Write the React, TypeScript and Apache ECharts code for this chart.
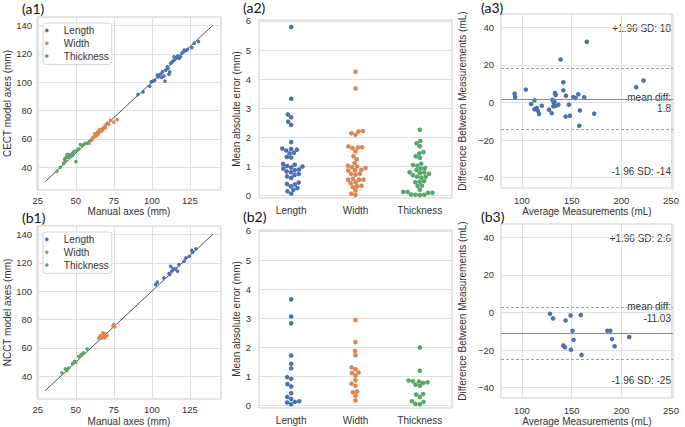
import React, { useEffect, useRef } from 'react';
import * as echarts from 'echarts';

// ---------- data ----------
const categories = ['Length', 'Width', 'Thickness'];

const a1Length = [[90.9,91.3],[94.2,93.2],[98.6,97.2],[99.7,100.3],[100.8,100.8],[102,101.5],[103.6,105],[104.3,103.8],[104.7,105],[105.8,105.7],[106.5,103.3],[107,107.3],[108,104.3],[108.7,100.8],[109.1,108.5],[110.2,110.9],[110.6,109.8],[111.3,105.7],[111.8,107.3],[112.4,113.3],[113.5,114.5],[114.6,115.6],[114.6,118],[115.7,116.8],[116.9,118.5],[117.5,118.5],[117.9,116.8],[119,118],[119.7,120.4],[120.6,121.1],[121.3,122.7],[122.4,122.3],[123.5,123.2],[126.3,124.4],[127.9,127.5],[130.7,128.7]];
const a1Width = [[58.9,57],[60.7,59.4],[61.1,60.8],[61.8,61.3],[62.4,63.6],[62.9,61.7],[63.5,62.5],[64.2,64.8],[64.6,63.2],[65.1,64.1],[65.5,66.5],[66.2,66],[66.9,65.5],[67.3,67.2],[67.8,66.5],[68.4,67.9],[69.1,68.8],[69.5,67.9],[70,70.3],[70.8,71.2],[71.7,70.3],[72.8,73.1],[75,71.9],[77.2,73.6]];
const a1Thickness = [[37.6,37.2],[39.8,40],[42,42.8],[42.6,45.9],[43.1,44.7],[43.7,47.1],[44.2,49],[44.8,47.1],[45.3,47.6],[45.7,49],[46.6,48.3],[47.5,49.5],[47.9,48.3],[48.3,50.6],[49.2,51.3],[50.1,44],[51,52.3],[51.9,53],[53,56.1],[54.1,55.4],[55.2,56.1],[56.3,57],[57.4,57],[59.6,58.9]];

const b1Length = [[102.5,104.7],[103.6,106.4],[108,109.4],[111.3,112.5],[111.8,111.8],[112.4,117.6],[113.1,114.1],[114,115.8],[115.7,115.8],[116.9,114.1],[117.9,118.8],[121.3,121.2],[122.4,123.5],[124.6,124.7],[126.3,128.9],[126.8,127.5],[129,129.9]];
const b1Width = [[65.1,67.1],[66.2,68.7],[67.3,67.1],[67.8,70.6],[68.4,69.4],[69.1,67.1],[69.5,70.1],[70.6,68.7],[74.4,75.3],[75,76.5],[75.7,74.8]];
const b1Thickness = [[40.9,42.4],[43.1,45.2],[44.2,44.2],[45.3,45.9],[47.9,48.9],[49.2,50.6],[50.1,49.9],[51.9,54.1],[53.6,55.3],[55.2,56.5],[57.4,59.3]];

const identityLine = [[30, 30], [140, 140]];

const a2Length = [5.79,3.33,2.79,2.69,2.54,2.43,1.84,1.62,1.6,1.58,1.55,1.47,1.45,1.33,1.31,1.09,1.06,1.02,1.0,0.97,0.93,0.9,0.87,0.83,0.8,0.74,0.71,0.66,0.61,0.45,0.4,0.38,0.32,0.26,0.2,0.15,0.07];
const a2Width = [4.25,3.68,2.22,2.2,2.14,2.09,1.69,1.66,1.65,1.63,1.52,1.35,1.25,1.12,1.03,1.0,0.98,0.95,0.89,0.87,0.86,0.75,0.75,0.72,0.58,0.55,0.55,0.55,0.46,0.43,0.34,0.32,0.3,0.18,0.07,0.02];
const a2Thickness = [2.26,1.88,1.8,1.7,1.5,1.45,1.35,1.3,1.1,1.05,1.03,0.95,0.93,0.88,0.8,0.8,0.78,0.75,0.7,0.65,0.65,0.62,0.5,0.48,0.46,0.35,0.33,0.2,0.13,0.13,0.1,0.1,0.04,0.03,0.03,0.02];

const b2Length = [3.65,3.06,2.83,1.72,1.44,1.28,0.98,0.92,0.74,0.66,0.43,0.3,0.23,0.15,0.13,0.11,0.05];
const b2Width = [2.94,2.18,1.88,1.73,1.32,1.25,1.14,1.12,1.03,0.87,0.75,0.68,0.49,0.46,0.34,0.18];
const b2Thickness = [2.0,1.2,0.86,0.84,0.83,0.8,0.78,0.72,0.68,0.4,0.38,0.3,0.15,0.13,0.06,0.05];

const a3Points = [[92.7,4.6],[93.3,2.8],[104,6.8],[109.3,-0.9],[112.7,1.1],[112.7,-3.6],[115,-3.0],[116,-4.4],[117.3,-6.2],[120,-1.8],[127.3,-3.9],[130,-5.7],[130.7,1.4],[131.7,-2.1],[132,0],[132.7,0.5],[133.3,5],[134,3.9],[134,-1.8],[136.7,-1.2],[139,22.8],[141.7,10.7],[141.7,6.4],[144.3,3.6],[144,-7.5],[147.3,-1.2],[148.3,-7.1],[151.7,2.8],[154,2.3],[156.7,4.3],[158.3,-4.3],[157.7,-12.4],[162.7,2.7],[165.3,32.2],[172.7,-6],[215,8],[222.3,11.6]];
const a3Stats = { mean: 1.8, upper: 17.9, lower: -14.3 };
const a3Labels = ['+1.96 SD: 18', 'mean diff:', '1.8', '-1.96 SD: -14'];

const b3Points = [[128.3,-0.7],[131.3,-3.2],[144,-4.3],[149,-1.6],[159.3,-1.4],[151,-9.8],[152,-14.6],[141.7,-17.6],[143.3,-18.5],[149.3,-19.9],[160,-22.6],[186,-9.8],[189,-9.8],[190.7,-14.2],[193.3,-18],[208,-13.1]];
const b3Stats = { mean: -11.03, upper: 2.6, lower: -24.66 };
const b3Labels = ['+1.96 SD: 2.6', 'mean diff:', '-11.03', '-1.96 SD: -25'];

const ticksXY = [25, 50, 75, 100, 125];
const ticksYY = [40, 60, 80, 100, 120, 140];
const ticksErr = [0, 1, 2, 3, 4, 5, 6];
const ticksAvg = [100, 150, 200, 250];
const ticksDiff = [-40, -20, 0, 20, 40];

// ---------- style / layout ----------
const COLORS = ['#4c72b0', '#dd8452', '#55a868'];
const FONT = '"Liberation Sans", Arial, Helvetica, sans-serif';
const TXT = '#333333';
const GRIDLINE = '#e0e0e0';
const BORDER = '#cdcdcd';

const grids = [
  { left: 37, top: 17, width: 184, height: 173 },   // a1
  { left: 259, top: 20, width: 193, height: 178 },  // a2
  { left: 501, top: 14, width: 172, height: 174 },  // a3
  { left: 37, top: 226, width: 184, height: 173 },  // b1
  { left: 259, top: 230, width: 193, height: 178 }, // b2
  { left: 501, top: 224, width: 172, height: 174 }, // b3
];

const ERR_MIN = -0.08, ERR_MAX = 6.03;
const DOT = 4.4;

// simple beeswarm layout (pixel space) -> offsets in category units
function swarm(vals: number[], grid: { width: number; height: number }) {
  const pyu = grid.height / (ERR_MAX - ERR_MIN);
  const pxc = grid.width / 3;
  const order = vals.map((v, i) => i).sort((a, b) => vals[a] - vals[b]);
  const placed: { x: number; y: number }[] = [];
  const off = new Array(vals.length).fill(0);
  for (const i of order) {
    const y = vals[i] * pyu;
    const nb = placed.filter((p) => Math.abs(p.y - y) < DOT);
    const cands = [0];
    for (const n of nb) {
      const dy = y - n.y;
      const dx = Math.sqrt(Math.max(DOT * DOT - dy * dy, 0));
      cands.push(n.x + dx, n.x - dx);
    }
    cands.sort((a, b) => Math.abs(a) - Math.abs(b) || a - b);
    let chosen = 0;
    for (const c of cands) {
      if (nb.every((n) => (c - n.x) ** 2 + (y - n.y) ** 2 >= DOT * DOT - 0.01)) {
        chosen = c;
        break;
      }
    }
    placed.push({ x: chosen, y });
    off[i] = chosen / pxc;
  }
  return vals.map((v, i) => [off[i], v]);
}

function swarmSeries(sets: number[][], gridIdx: number, prefix: string) {
  return sets.map((vals, c) => ({
    type: 'scatter',
    name: prefix + categories[c],
    xAxisIndex: gridIdx,
    yAxisIndex: gridIdx,
    symbolSize: 4.6,
    itemStyle: { color: COLORS[c], opacity: 1 },
    data: swarm(vals, grids[gridIdx]).map(([o, v]) => [c + o, v]),
  }));
}

function scatterSeries(sets: number[][][], gridIdx: number) {
  const s: any[] = sets.map((d, c) => ({
    type: 'scatter',
    name: categories[c],
    xAxisIndex: gridIdx,
    yAxisIndex: gridIdx,
    symbolSize: 3.6,
    itemStyle: { color: COLORS[c], opacity: 1 },
    data: d,
    z: 3,
  }));
  s.push({
    type: 'line',
    name: 'identity' + gridIdx,
    xAxisIndex: gridIdx,
    yAxisIndex: gridIdx,
    data: identityLine,
    symbol: 'none',
    lineStyle: { color: '#222', width: 0.8 },
    z: 2,
  });
  return s;
}

function baSeries(points: number[][], stats: { mean: number; upper: number; lower: number }, gridIdx: number) {
  return {
    type: 'scatter',
    name: 'ba' + gridIdx,
    xAxisIndex: gridIdx,
    yAxisIndex: gridIdx,
    symbolSize: 4.6,
    itemStyle: { color: COLORS[0], opacity: 1 },
    data: points,
    markLine: {
      silent: true,
      symbol: 'none',
      label: { show: false },
      animation: false,
      data: [
        { yAxis: stats.mean, lineStyle: { type: 'solid', color: '#8a8a8a', width: 1.1 } },
        { yAxis: stats.upper, lineStyle: { type: [3, 2], color: '#8a8a8a', width: 0.8 } },
        { yAxis: stats.lower, lineStyle: { type: [3, 2], color: '#8a8a8a', width: 0.8 } },
      ],
    },
  };
}

const minusFmt = (v: number) => (v < 0 ? '\u2212' + Math.abs(v) : String(v));

function axis(gridIndex: number, min: number, max: number, ticks: number[], extra: any = {}) {
  const { labelMargin = 5, fontSize = 9.5, formatter, split = true, ...rest } = extra;
  return {
    type: 'value',
    gridIndex,
    min,
    max,
    axisLine: { show: false },
    axisTick: { show: false, customValues: ticks },
    axisLabel: {
      customValues: ticks,
      color: TXT,
      fontSize,
      fontFamily: FONT,
      margin: labelMargin,
      formatter: formatter || ((v: number) => String(v)),
      showMinLabel: true,
      showMaxLabel: true,
    },
    splitLine: { show: split, lineStyle: { color: GRIDLINE, width: 1 } },
    nameLocation: 'middle',
    nameTextStyle: { color: TXT, fontSize: 10, fontFamily: FONT },
    ...rest,
  };
}

const catFmt = (v: number) => categories[Math.round(v)] ?? '';

function legend(top: number) {
  return {
    orient: 'vertical',
    left: 43,
    top,
    data: categories,
    icon: 'circle',
    itemWidth: 24,
    itemHeight: 3.6,
    itemGap: 0,
    padding: [1, 3, 2, 2],
    borderColor: '#d4d4d4',
    borderWidth: 1,
    borderRadius: 3,
    backgroundColor: '#ffffff',
    selectedMode: false,
    textStyle: { color: TXT, fontSize: 10, fontFamily: FONT, lineHeight: 12.8 },
  };
}

function text(x: number, y: number, t: string, align = 'right', size = 10, family = FONT, color = TXT) {
  return {
    type: 'text',
    x,
    y,
    silent: true,
    style: {
      text: t,
      fontSize: size,
      fontFamily: family,
      fill: color,
      align,
      verticalAlign: 'middle',
      textAlign: align,
      textVerticalAlign: 'middle',
    },
  };
}

const PANEL_FONT = 'Lato, "Open Sans", sans-serif';

const option: any = {
  animation: false,
  backgroundColor: '#ffffff',
  textStyle: { fontFamily: FONT },
  grid: grids.map((g) => ({
    ...g,
    show: true,
    borderColor: BORDER,
    borderWidth: 1,
    backgroundColor: 'transparent',
    containLabel: false,
    outerBoundsMode: 'none',
  })),
  legend: [legend(23), legend(232)],
  xAxis: [
    axis(0, 24.5, 145.5, ticksXY, { name: 'Manual axes (mm)', nameGap: 16 }),
    axis(1, -0.5, 2.5, [0, 1, 2], { split: false, fontSize: 10, labelMargin: 7, formatter: catFmt }),
    axis(2, 79, 252, ticksAvg, { name: 'Average Measurements (mL)', nameGap: 18, labelMargin: 7 }),
    axis(3, 24.5, 145.5, ticksXY, { name: 'Manual axes (mm)', nameGap: 17 }),
    axis(4, -0.5, 2.5, [0, 1, 2], { split: false, fontSize: 10, labelMargin: 7, formatter: catFmt }),
    axis(5, 79, 252, ticksAvg, { name: 'Average Measurements (mL)', nameGap: 18, labelMargin: 7 }),
  ],
  yAxis: [
    axis(0, 24, 146, ticksYY, { name: 'CECT model axes (mm)', nameGap: 25 }),
    axis(1, ERR_MIN, ERR_MAX, ticksErr, { name: 'Mean absolute error (mm)', nameGap: 17, labelMargin: 8 }),
    axis(2, -45.5, 47, ticksDiff, { name: 'Difference Between Measurements (mL)', nameGap: 34, labelMargin: 7, formatter: minusFmt }),
    axis(3, 24, 146, ticksYY, { name: 'NCCT model axes (mm)', nameGap: 25 }),
    axis(4, ERR_MIN, ERR_MAX, ticksErr, { name: 'Mean absolute error (mm)', nameGap: 17, labelMargin: 8 }),
    axis(5, -45.5, 47, ticksDiff, { name: 'Difference Between Measurements (mL)', nameGap: 34, labelMargin: 7, formatter: minusFmt }),
  ],
  series: [
    ...scatterSeries([a1Length, a1Width, a1Thickness], 0),
    ...swarmSeries([a2Length, a2Width, a2Thickness], 1, 'a2 '),
    baSeries(a3Points, a3Stats, 2),
    ...scatterSeries([b1Length, b1Width, b1Thickness], 3),
    ...swarmSeries([b2Length, b2Width, b2Thickness], 4, 'b2 '),
    baSeries(b3Points, b3Stats, 5),
  ],
  graphic: [
    text(22, 8.5, '(a1)', 'left', 14, PANEL_FONT, '#111'),
    text(243, 7, '(a2)', 'left', 14, PANEL_FONT, '#111'),
    text(481, 7.5, '(a3)', 'left', 14, PANEL_FONT, '#111'),
    text(22, 217, '(b1)', 'left', 14, PANEL_FONT, '#111'),
    text(243, 216.5, '(b2)', 'left', 14, PANEL_FONT, '#111'),
    text(481, 216.5, '(b3)', 'left', 14, PANEL_FONT, '#111'),
    text(671, 28.3, a3Labels[0]),
    text(671, 97, a3Labels[1]),
    text(671, 108.5, a3Labels[2]),
    text(671, 171.7, a3Labels[3]),
    text(671, 238.3, b3Labels[0]),
    text(671, 306.7, b3Labels[1]),
    text(671, 318.3, b3Labels[2]),
    text(671, 380.7, b3Labels[3]),
  ],
};

export default function App() {
  const ref = useRef<HTMLDivElement>(null);
  useEffect(() => {
    if (!ref.current) return;
    const chart = echarts.init(ref.current, null, { renderer: 'svg' });
    chart.setOption(option);
    return () => chart.dispose();
  }, []);
  return (
    <div
      ref={ref}
      style={{ position: 'absolute', left: 0, top: 0, width: 685, height: 427, background: '#fff' }}
    />
  );
}
